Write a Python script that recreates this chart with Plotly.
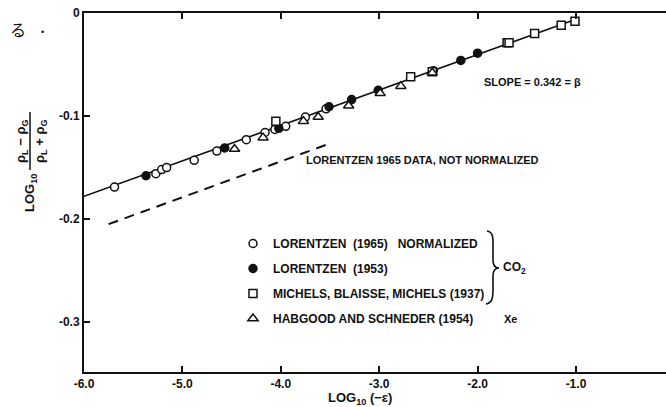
import plotly.graph_objects as go

# ---- data ----
lor65_x = [-5.69, -5.27, -5.21, -5.16, -4.88, -4.65, -4.35, -4.16, -4.06, -3.95, -3.75, -3.54]
lor65_y = [-0.169, -0.156, -0.152, -0.150, -0.143, -0.134, -0.123, -0.116, -0.113, -0.110, -0.101, -0.093]

lor53_x = [-5.37, -4.57, -4.02, -3.51, -3.28, -3.01, -2.45, -2.17, -2.00]
lor53_y = [-0.158, -0.131, -0.112, -0.091, -0.084, -0.075, -0.056, -0.046, -0.039]

mich_x = [-4.05, -2.68, -2.46, -1.70, -1.68, -1.42, -1.15, -1.01]
mich_y = [-0.105, -0.062, -0.057, -0.029, -0.029, -0.020, -0.012, -0.008]

hab_x = [-4.47, -4.18, -3.77, -3.62, -3.31, -2.99, -2.78, -2.46]
hab_y = [-0.132, -0.121, -0.105, -0.101, -0.090, -0.078, -0.071, -0.058]

fit_x = [-6.0, -1.0]
fit_y = [-0.178, -0.006]

raw65_x = [-5.75, -3.51]
raw65_y = [-0.205, -0.127]

x_ticks = [-6, -5, -4, -3, -2, -1]
x_ticklabels = ["-6.0", "-5.0", "-4.0", "-3.0", "-2.0", "-1.0"]
y_ticks = [0, -0.1, -0.2, -0.3]
y_ticklabels = ["0", "-0.1", "-0.2", "-0.3"]

legend_names = [
    "LORENTZEN  (1965)   NORMALIZED",
    "LORENTZEN  (1953)",
    "MICHELS, BLAISSE, MICHELS (1937)",
    "HABGOOD AND SCHNEDER (1954)",
]

# ---- layout geometry (pixels) ----
W, H = 666, 407
L, R, T, B = 84, 0, 13, 35
PW, PH = W - L - R, H - T - B


def px(xp):
    return (xp - L) / PW


def py(yp):
    return (H - B - yp) / PH


FONT = "Liberation Sans, Arial, sans-serif"
BLACK = "#111111"

fig = go.Figure()

fig.add_trace(go.Scatter(x=fit_x, y=fit_y, mode="lines",
                         line=dict(color=BLACK, width=1.6), showlegend=False))
fig.add_trace(go.Scatter(x=raw65_x, y=raw65_y, mode="lines",
                         line=dict(color=BLACK, width=2, dash="10px,7px"), showlegend=False))

mk_line = dict(color=BLACK, width=1.5)
fig.add_trace(go.Scatter(x=lor65_x, y=lor65_y, mode="markers", name=legend_names[0],
                         legendgroup="a",
                         marker=dict(symbol="circle", size=8, color="white", line=mk_line)))
fig.add_trace(go.Scatter(x=lor53_x, y=lor53_y, mode="markers", name=legend_names[1],
                         legendgroup="b",
                         marker=dict(symbol="circle", size=8, color=BLACK, line=mk_line)))
fig.add_trace(go.Scatter(x=mich_x, y=mich_y, mode="markers", name=legend_names[2],
                         legendgroup="c",
                         marker=dict(symbol="square", size=8, color="white", line=mk_line)))
fig.add_trace(go.Scatter(x=hab_x, y=hab_y, mode="markers", name=legend_names[3],
                         legendgroup="d",
                         marker=dict(symbol="triangle-up", size=9, color="white", line=mk_line)))

ann_font = dict(family=FONT, size=11, color=BLACK, weight="bold")
big_font = dict(family=FONT, size=13, color=BLACK, weight="bold")
annotations = [
    dict(x=px(532), y=py(82), text="SLOPE = 0.342 = β"),
    dict(x=px(422), y=py(160), text="LORENTZEN 1965 DATA, NOT NORMALIZED"),
    dict(x=px(514), y=py(268), text="CO<sub>2</sub>", font=dict(family=FONT, size=12, color=BLACK, weight="bold")),
    dict(x=px(511), y=py(319), text="Xe"),
    dict(x=px(30), y=py(193), text="LOG<sub>10</sub>", textangle=-90, font=big_font),
    dict(x=px(21), y=py(141), text="ρ<sub>L</sub> − ρ<sub>G</sub>", textangle=-90, font=big_font),
    dict(x=px(40), y=py(141), text="ρ<sub>L</sub> + ρ<sub>G</sub>", textangle=-90, font=big_font),
    dict(x=px(18), y=py(29), text="る", font=dict(family="Noto Sans CJK JP", size=16, color=BLACK)),
    dict(x=px(42), y=py(32), text="•", font=dict(family=FONT, size=9, color=BLACK)),
    dict(x=px(360), y=py(398), text="LOG<sub>10</sub> (−ε)", font=big_font),
]
for a in annotations:
    a.setdefault("font", ann_font)
    a.update(xref="paper", yref="paper", showarrow=False, xanchor="center", yanchor="middle")


def P(xp, yp):
    return f"{px(xp):.5f},{py(yp):.5f}"


bx = 3  # horizontal offset of the brace
brace = ("M " + P(484 + bx, 231) + " C " + P(491 + bx, 232) + " " + P(490 + bx, 240) + " " + P(490 + bx, 248)
         + " L " + P(490 + bx, 260) + " C " + P(490 + bx, 266) + " " + P(493 + bx, 268) + " " + P(496 + bx, 268)
         + " C " + P(493 + bx, 268) + " " + P(490 + bx, 270) + " " + P(490 + bx, 276)
         + " L " + P(490 + bx, 290) + " C " + P(490 + bx, 298) + " " + P(489 + bx, 303) + " " + P(483 + bx, 304))
shapes = [
    dict(type="path", path=brace, xref="paper", yref="paper",
         line=dict(color=BLACK, width=1.6)),
    dict(type="line", xref="paper", yref="paper", x0=px(30), x1=px(30), y0=py(112), y1=py(170),
         line=dict(color=BLACK, width=1.5)),
]

tick_font = dict(family=FONT, size=12, color=BLACK, weight="bold")

fig.update_layout(
    width=W, height=H,
    margin=dict(l=L, r=R, t=T, b=B),
    paper_bgcolor="white", plot_bgcolor="white",
    font=dict(family=FONT, size=11, color=BLACK),
    annotations=annotations,
    shapes=shapes,
    showlegend=True,
    legend=dict(x=px(233), y=py(229), xanchor="left", yanchor="top",
                bgcolor="rgba(0,0,0,0)", tracegroupgap=6,
                font=dict(family=FONT, size=12, color=BLACK, weight="bold"),
                itemclick=False),
    xaxis=dict(range=[-6, -0.085], tickvals=x_ticks, ticktext=x_ticklabels,
               ticks="inside", ticklen=6, tickwidth=1.5, tickcolor=BLACK,
               showline=True, linecolor=BLACK, linewidth=2, mirror="ticks",
               showgrid=False, zeroline=False, tickfont=tick_font),
    yaxis=dict(range=[-0.3485, 0], tickvals=y_ticks, ticktext=y_ticklabels,
               ticks="inside", ticklen=6, tickwidth=1.5, tickcolor=BLACK,
               showline=True, linecolor=BLACK, linewidth=2, mirror=False,
               showgrid=False, zeroline=False, tickfont=tick_font),
)

fig.write_html("out.html")
